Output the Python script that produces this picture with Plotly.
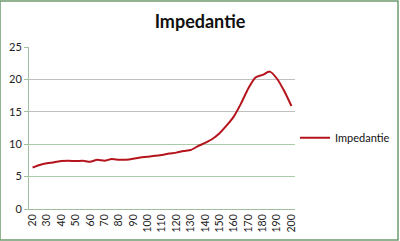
import plotly.graph_objects as go

# Data
frequency = list(range(20, 205, 5))
impedantie = [6.4, 6.8, 7.05, 7.2, 7.4, 7.45, 7.4, 7.45, 7.3, 7.6,
              7.45, 7.7, 7.6, 7.6, 7.75, 7.95, 8.05, 8.2, 8.35, 8.55,
              8.7, 8.95, 9.1, 9.7, 10.2, 10.8, 11.7, 12.9, 14.3, 16.3,
              18.6, 20.3, 20.7, 21.2, 20.1, 18.2, 15.9]
x_labels = [str(v) for v in range(20, 205, 10)]
y_ticks = [0, 5, 10, 15, 20, 25]
y_gray_grid = [15, 20, 25]
y_green_grid = [5, 10]
series_name = "Impedantie"
title_text = "Impedantie"

FONT = "Lato, 'Open Sans', sans-serif"
axis_col = "#9fbf9f"

boundaries = [frequency[0] - 2.5 + 5 * i for i in range(len(frequency) + 1)]
xr = [boundaries[0], boundaries[-1]]
yr = [0, 25]

fig = go.Figure()
# invisible helpers so the overlay axes are drawn
fig.add_trace(go.Scatter(x=[frequency[0]], y=[impedantie[0]], mode="lines",
                         showlegend=False, hoverinfo="skip",
                         line=dict(width=0), xaxis="x", yaxis="y"))
fig.add_trace(go.Scatter(x=[frequency[0]], y=[impedantie[0]], mode="lines",
                         showlegend=False, hoverinfo="skip",
                         line=dict(width=0), xaxis="x", yaxis="y2"))
fig.add_trace(go.Scatter(
    x=frequency, y=impedantie, mode="lines", name=series_name,
    line=dict(color="#b5141c", width=2, shape="spline", smoothing=0.6),
    xaxis="x", yaxis="y3",
))

grid_axis = dict(range=yr, overlaying="y", anchor="x", side="left",
                 tickmode="array", showgrid=True, gridwidth=1,
                 showticklabels=False, ticks="", zeroline=False,
                 showline=False)

fig.update_layout(
    width=400, height=241,
    margin=dict(l=29, r=105, t=47, b=32, autoexpand=False),
    paper_bgcolor="white", plot_bgcolor="white",
    font=dict(family=FONT, size=10, color="#222222"),
    title=dict(text="<b>" + title_text + "</b>", x=0.5, xanchor="center",
               y=1 - 22 / 241, yanchor="middle",
               font=dict(family=FONT, size=18, color="#111111")),
    showlegend=True,
    legend=dict(x=1.0, xanchor="left", y=0.44, yanchor="middle",
                font=dict(family=FONT, size=11, color="#111111"),
                bgcolor="rgba(0,0,0,0)", itemwidth=30),
    xaxis=dict(range=xr, tickmode="array", tickvals=list(range(20, 205, 10)),
               ticktext=x_labels, tickangle=-90, ticks="",
               showgrid=False, zeroline=False, showline=True,
               linecolor=axis_col, linewidth=1,
               tickfont=dict(family=FONT, size=10.5, color="#222222")),
    xaxis2=dict(range=xr, overlaying="x", anchor="y", side="bottom",
                tickmode="array", tickvals=boundaries, ticks="outside",
                ticklen=4, tickcolor=axis_col, showticklabels=False,
                showgrid=False, zeroline=False, showline=False),
    yaxis=dict(range=yr, tickmode="array", tickvals=y_ticks,
               showgrid=False, zeroline=False, showline=True,
               linecolor=axis_col, ticks="outside", ticklen=4,
               tickcolor=axis_col,
               tickfont=dict(family=FONT, size=11, color="#222222")),
    yaxis2=dict(grid_axis, tickvals=y_gray_grid, gridcolor="#c0c0c0"),
    yaxis3=dict(grid_axis, tickvals=y_green_grid, gridcolor="#a9cba9"),
    shapes=[dict(type="rect", xref="paper", yref="paper",
                 x0=-29 / 266, x1=1 + 103 / 266, y0=-31 / 162, y1=1 + 46 / 162,
                 line=dict(color="#6f9a6f", width=1.5), layer="below")],
)

fig.write_html("out.html")
